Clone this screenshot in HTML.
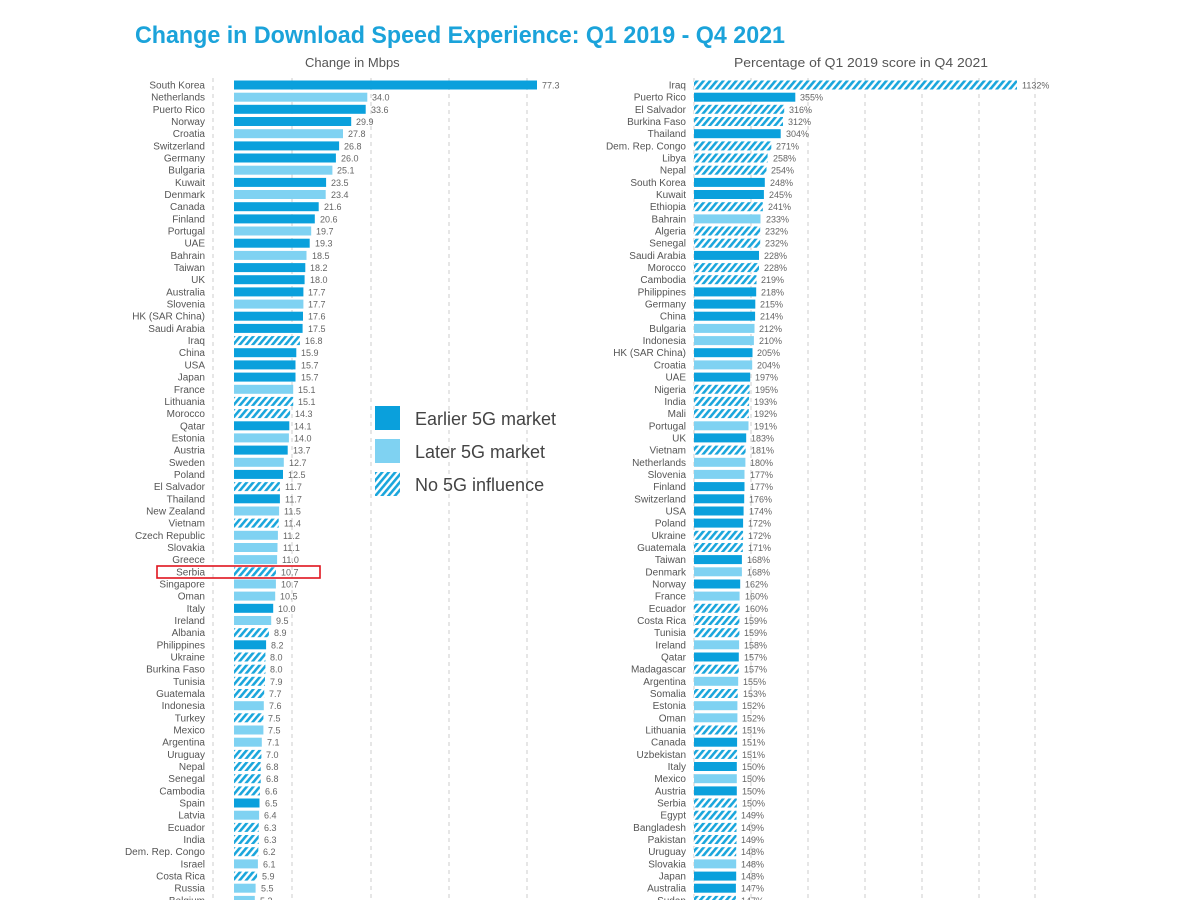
<!DOCTYPE html>
<html><head><meta charset="utf-8"><style>
body{margin:0;background:#fff;width:1200px;height:900px;overflow:hidden}
svg text{font-family:"Liberation Sans",sans-serif}
.l{font-size:10px;fill:#555;text-anchor:end}
.v{font-size:9px;fill:#666}
.D{fill:#0aa0dc}.L{fill:#7fd2f2}.H{fill:url(#h)}
</style></head><body>
<svg width="1200" height="900" xmlns="http://www.w3.org/2000/svg">
<defs><pattern id="h" patternUnits="userSpaceOnUse" width="5" height="5" patternTransform="rotate(40)"><rect width="5" height="5" fill="#fff"/><rect width="2.6" height="5" fill="#1aa6dc"/></pattern></defs>
<text x="135" y="43" font-size="24" font-weight="bold" fill="#1ba3da" textLength="650" lengthAdjust="spacingAndGlyphs">Change in Download Speed Experience: Q1 2019 - Q4 2021</text>
<text x="305" y="67" font-size="13" fill="#555">Change in Mbps</text>
<text x="734" y="67" font-size="13" fill="#555" textLength="254" lengthAdjust="spacingAndGlyphs">Percentage of Q1 2019 score in Q4 2021</text>
<g stroke="#ccc" stroke-dasharray="4,4">
<line x1="213" y1="78" x2="213" y2="900"/><line x1="292" y1="78" x2="292" y2="900"/><line x1="371" y1="78" x2="371" y2="900"/><line x1="449" y1="78" x2="449" y2="900"/><line x1="527" y1="78" x2="527" y2="900"/>
<line x1="694" y1="78" x2="694" y2="900"/><line x1="751" y1="78" x2="751" y2="900"/><line x1="808" y1="78" x2="808" y2="900"/><line x1="865" y1="78" x2="865" y2="900"/><line x1="922" y1="78" x2="922" y2="900"/><line x1="979" y1="78" x2="979" y2="900"/><line x1="1035" y1="78" x2="1035" y2="900"/>
</g>
<!-- LEFT -->
<g transform="translate(0,85)"><text class="l" x="205" y="3.5">South Korea</text><rect class="D" x="234" y="-4.5" width="303" height="9"/><text class="v" x="542" y="3.5">77.3</text></g>
<g transform="translate(0,97.2)"><text class="l" x="205" y="3.5">Netherlands</text><rect class="L" x="234" y="-4.5" width="133.3" height="9"/><text class="v" x="372" y="3.5">34.0</text></g>
<g transform="translate(0,109.3)"><text class="l" x="205" y="3.5">Puerto Rico</text><rect class="D" x="234" y="-4.5" width="131.7" height="9"/><text class="v" x="371" y="3.5">33.6</text></g>
<g transform="translate(0,121.5)"><text class="l" x="205" y="3.5">Norway</text><rect class="D" x="234" y="-4.5" width="117.2" height="9"/><text class="v" x="356" y="3.5">29.9</text></g>
<g transform="translate(0,133.7)"><text class="l" x="205" y="3.5">Croatia</text><rect class="L" x="234" y="-4.5" width="109" height="9"/><text class="v" x="348" y="3.5">27.8</text></g>
<g transform="translate(0,145.9)"><text class="l" x="205" y="3.5">Switzerland</text><rect class="D" x="234" y="-4.5" width="105.1" height="9"/><text class="v" x="344" y="3.5">26.8</text></g>
<g transform="translate(0,158)"><text class="l" x="205" y="3.5">Germany</text><rect class="D" x="234" y="-4.5" width="101.9" height="9"/><text class="v" x="341" y="3.5">26.0</text></g>
<g transform="translate(0,170.2)"><text class="l" x="205" y="3.5">Bulgaria</text><rect class="L" x="234" y="-4.5" width="98.4" height="9"/><text class="v" x="337" y="3.5">25.1</text></g>
<g transform="translate(0,182.4)"><text class="l" x="205" y="3.5">Kuwait</text><rect class="D" x="234" y="-4.5" width="92.1" height="9"/><text class="v" x="331" y="3.5">23.5</text></g>
<g transform="translate(0,194.5)"><text class="l" x="205" y="3.5">Denmark</text><rect class="L" x="234" y="-4.5" width="91.7" height="9"/><text class="v" x="331" y="3.5">23.4</text></g>
<g transform="translate(0,206.7)"><text class="l" x="205" y="3.5">Canada</text><rect class="D" x="234" y="-4.5" width="84.7" height="9"/><text class="v" x="324" y="3.5">21.6</text></g>
<g transform="translate(0,218.9)"><text class="l" x="205" y="3.5">Finland</text><rect class="D" x="234" y="-4.5" width="80.8" height="9"/><text class="v" x="320" y="3.5">20.6</text></g>
<g transform="translate(0,231)"><text class="l" x="205" y="3.5">Portugal</text><rect class="L" x="234" y="-4.5" width="77.2" height="9"/><text class="v" x="316" y="3.5">19.7</text></g>
<g transform="translate(0,243.2)"><text class="l" x="205" y="3.5">UAE</text><rect class="D" x="234" y="-4.5" width="75.7" height="9"/><text class="v" x="315" y="3.5">19.3</text></g>
<g transform="translate(0,255.4)"><text class="l" x="205" y="3.5">Bahrain</text><rect class="L" x="234" y="-4.5" width="72.5" height="9"/><text class="v" x="312" y="3.5">18.5</text></g>
<g transform="translate(0,267.6)"><text class="l" x="205" y="3.5">Taiwan</text><rect class="D" x="234" y="-4.5" width="71.3" height="9"/><text class="v" x="310" y="3.5">18.2</text></g>
<g transform="translate(0,279.7)"><text class="l" x="205" y="3.5">UK</text><rect class="D" x="234" y="-4.5" width="70.6" height="9"/><text class="v" x="310" y="3.5">18.0</text></g>
<g transform="translate(0,291.9)"><text class="l" x="205" y="3.5">Australia</text><rect class="D" x="234" y="-4.5" width="69.4" height="9"/><text class="v" x="308" y="3.5">17.7</text></g>
<g transform="translate(0,304.1)"><text class="l" x="205" y="3.5">Slovenia</text><rect class="L" x="234" y="-4.5" width="69.4" height="9"/><text class="v" x="308" y="3.5">17.7</text></g>
<g transform="translate(0,316.2)"><text class="l" x="205" y="3.5">HK (SAR China)</text><rect class="D" x="234" y="-4.5" width="69" height="9"/><text class="v" x="308" y="3.5">17.6</text></g>
<g transform="translate(0,328.4)"><text class="l" x="205" y="3.5">Saudi Arabia</text><rect class="D" x="234" y="-4.5" width="68.6" height="9"/><text class="v" x="308" y="3.5">17.5</text></g>
<g transform="translate(0,340.6)"><text class="l" x="205" y="3.5">Iraq</text><rect class="H" x="234" y="-4.5" width="65.9" height="9"/><text class="v" x="305" y="3.5">16.8</text></g>
<g transform="translate(0,352.7)"><text class="l" x="205" y="3.5">China</text><rect class="D" x="234" y="-4.5" width="62.3" height="9"/><text class="v" x="301" y="3.5">15.9</text></g>
<g transform="translate(0,364.9)"><text class="l" x="205" y="3.5">USA</text><rect class="D" x="234" y="-4.5" width="61.5" height="9"/><text class="v" x="301" y="3.5">15.7</text></g>
<g transform="translate(0,377.1)"><text class="l" x="205" y="3.5">Japan</text><rect class="D" x="234" y="-4.5" width="61.5" height="9"/><text class="v" x="301" y="3.5">15.7</text></g>
<g transform="translate(0,389.3)"><text class="l" x="205" y="3.5">France</text><rect class="L" x="234" y="-4.5" width="59.2" height="9"/><text class="v" x="298" y="3.5">15.1</text></g>
<g transform="translate(0,401.4)"><text class="l" x="205" y="3.5">Lithuania</text><rect class="H" x="234" y="-4.5" width="59.2" height="9"/><text class="v" x="298" y="3.5">15.1</text></g>
<g transform="translate(0,413.6)"><text class="l" x="205" y="3.5">Morocco</text><rect class="H" x="234" y="-4.5" width="56.1" height="9"/><text class="v" x="295" y="3.5">14.3</text></g>
<g transform="translate(0,425.8)"><text class="l" x="205" y="3.5">Qatar</text><rect class="D" x="234" y="-4.5" width="55.3" height="9"/><text class="v" x="294" y="3.5">14.1</text></g>
<g transform="translate(0,437.9)"><text class="l" x="205" y="3.5">Estonia</text><rect class="L" x="234" y="-4.5" width="54.9" height="9"/><text class="v" x="294" y="3.5">14.0</text></g>
<g transform="translate(0,450.1)"><text class="l" x="205" y="3.5">Austria</text><rect class="D" x="234" y="-4.5" width="53.7" height="9"/><text class="v" x="293" y="3.5">13.7</text></g>
<g transform="translate(0,462.3)"><text class="l" x="205" y="3.5">Sweden</text><rect class="L" x="234" y="-4.5" width="49.8" height="9"/><text class="v" x="289" y="3.5">12.7</text></g>
<g transform="translate(0,474.4)"><text class="l" x="205" y="3.5">Poland</text><rect class="D" x="234" y="-4.5" width="49" height="9"/><text class="v" x="288" y="3.5">12.5</text></g>
<g transform="translate(0,486.6)"><text class="l" x="205" y="3.5">El Salvador</text><rect class="H" x="234" y="-4.5" width="45.9" height="9"/><text class="v" x="285" y="3.5">11.7</text></g>
<g transform="translate(0,498.8)"><text class="l" x="205" y="3.5">Thailand</text><rect class="D" x="234" y="-4.5" width="45.9" height="9"/><text class="v" x="285" y="3.5">11.7</text></g>
<g transform="translate(0,511)"><text class="l" x="205" y="3.5">New Zealand</text><rect class="L" x="234" y="-4.5" width="45.1" height="9"/><text class="v" x="284" y="3.5">11.5</text></g>
<g transform="translate(0,523.1)"><text class="l" x="205" y="3.5">Vietnam</text><rect class="H" x="234" y="-4.5" width="44.7" height="9"/><text class="v" x="284" y="3.5">11.4</text></g>
<g transform="translate(0,535.3)"><text class="l" x="205" y="3.5">Czech Republic</text><rect class="L" x="234" y="-4.5" width="43.9" height="9"/><text class="v" x="283" y="3.5">11.2</text></g>
<g transform="translate(0,547.5)"><text class="l" x="205" y="3.5">Slovakia</text><rect class="L" x="234" y="-4.5" width="43.5" height="9"/><text class="v" x="283" y="3.5">11.1</text></g>
<g transform="translate(0,559.6)"><text class="l" x="205" y="3.5">Greece</text><rect class="L" x="234" y="-4.5" width="43.1" height="9"/><text class="v" x="282" y="3.5">11.0</text></g>
<g transform="translate(0,571.8)"><text class="l" x="205" y="3.5">Serbia</text><rect class="H" x="234" y="-4.5" width="41.9" height="9"/><text class="v" x="281" y="3.5">10.7</text></g>
<g transform="translate(0,584)"><text class="l" x="205" y="3.5">Singapore</text><rect class="L" x="234" y="-4.5" width="41.9" height="9"/><text class="v" x="281" y="3.5">10.7</text></g>
<g transform="translate(0,596.1)"><text class="l" x="205" y="3.5">Oman</text><rect class="L" x="234" y="-4.5" width="41.2" height="9"/><text class="v" x="280" y="3.5">10.5</text></g>
<g transform="translate(0,608.3)"><text class="l" x="205" y="3.5">Italy</text><rect class="D" x="234" y="-4.5" width="39.2" height="9"/><text class="v" x="278" y="3.5">10.0</text></g>
<g transform="translate(0,620.5)"><text class="l" x="205" y="3.5">Ireland</text><rect class="L" x="234" y="-4.5" width="37.2" height="9"/><text class="v" x="276" y="3.5">9.5</text></g>
<g transform="translate(0,632.7)"><text class="l" x="205" y="3.5">Albania</text><rect class="H" x="234" y="-4.5" width="34.9" height="9"/><text class="v" x="274" y="3.5">8.9</text></g>
<g transform="translate(0,644.8)"><text class="l" x="205" y="3.5">Philippines</text><rect class="D" x="234" y="-4.5" width="32.1" height="9"/><text class="v" x="271" y="3.5">8.2</text></g>
<g transform="translate(0,657)"><text class="l" x="205" y="3.5">Ukraine</text><rect class="H" x="234" y="-4.5" width="31.4" height="9"/><text class="v" x="270" y="3.5">8.0</text></g>
<g transform="translate(0,669.2)"><text class="l" x="205" y="3.5">Burkina Faso</text><rect class="H" x="234" y="-4.5" width="31.4" height="9"/><text class="v" x="270" y="3.5">8.0</text></g>
<g transform="translate(0,681.3)"><text class="l" x="205" y="3.5">Tunisia</text><rect class="H" x="234" y="-4.5" width="31" height="9"/><text class="v" x="270" y="3.5">7.9</text></g>
<g transform="translate(0,693.5)"><text class="l" x="205" y="3.5">Guatemala</text><rect class="H" x="234" y="-4.5" width="30.2" height="9"/><text class="v" x="269" y="3.5">7.7</text></g>
<g transform="translate(0,705.7)"><text class="l" x="205" y="3.5">Indonesia</text><rect class="L" x="234" y="-4.5" width="29.8" height="9"/><text class="v" x="269" y="3.5">7.6</text></g>
<g transform="translate(0,717.8)"><text class="l" x="205" y="3.5">Turkey</text><rect class="H" x="234" y="-4.5" width="29.4" height="9"/><text class="v" x="268" y="3.5">7.5</text></g>
<g transform="translate(0,730)"><text class="l" x="205" y="3.5">Mexico</text><rect class="L" x="234" y="-4.5" width="29.4" height="9"/><text class="v" x="268" y="3.5">7.5</text></g>
<g transform="translate(0,742.2)"><text class="l" x="205" y="3.5">Argentina</text><rect class="L" x="234" y="-4.5" width="27.8" height="9"/><text class="v" x="267" y="3.5">7.1</text></g>
<g transform="translate(0,754.4)"><text class="l" x="205" y="3.5">Uruguay</text><rect class="H" x="234" y="-4.5" width="27.4" height="9"/><text class="v" x="266" y="3.5">7.0</text></g>
<g transform="translate(0,766.5)"><text class="l" x="205" y="3.5">Nepal</text><rect class="H" x="234" y="-4.5" width="26.7" height="9"/><text class="v" x="266" y="3.5">6.8</text></g>
<g transform="translate(0,778.7)"><text class="l" x="205" y="3.5">Senegal</text><rect class="H" x="234" y="-4.5" width="26.7" height="9"/><text class="v" x="266" y="3.5">6.8</text></g>
<g transform="translate(0,790.9)"><text class="l" x="205" y="3.5">Cambodia</text><rect class="H" x="234" y="-4.5" width="25.9" height="9"/><text class="v" x="265" y="3.5">6.6</text></g>
<g transform="translate(0,803)"><text class="l" x="205" y="3.5">Spain</text><rect class="D" x="234" y="-4.5" width="25.5" height="9"/><text class="v" x="265" y="3.5">6.5</text></g>
<g transform="translate(0,815.2)"><text class="l" x="205" y="3.5">Latvia</text><rect class="L" x="234" y="-4.5" width="25.1" height="9"/><text class="v" x="264" y="3.5">6.4</text></g>
<g transform="translate(0,827.4)"><text class="l" x="205" y="3.5">Ecuador</text><rect class="H" x="234" y="-4.5" width="24.7" height="9"/><text class="v" x="264" y="3.5">6.3</text></g>
<g transform="translate(0,839.5)"><text class="l" x="205" y="3.5">India</text><rect class="H" x="234" y="-4.5" width="24.7" height="9"/><text class="v" x="264" y="3.5">6.3</text></g>
<g transform="translate(0,851.7)"><text class="l" x="205" y="3.5">Dem. Rep. Congo</text><rect class="H" x="234" y="-4.5" width="24.3" height="9"/><text class="v" x="263" y="3.5">6.2</text></g>
<g transform="translate(0,863.9)"><text class="l" x="205" y="3.5">Israel</text><rect class="L" x="234" y="-4.5" width="23.9" height="9"/><text class="v" x="263" y="3.5">6.1</text></g>
<g transform="translate(0,876.1)"><text class="l" x="205" y="3.5">Costa Rica</text><rect class="H" x="234" y="-4.5" width="23.1" height="9"/><text class="v" x="262" y="3.5">5.9</text></g>
<g transform="translate(0,888.2)"><text class="l" x="205" y="3.5">Russia</text><rect class="L" x="234" y="-4.5" width="21.6" height="9"/><text class="v" x="261" y="3.5">5.5</text></g>
<g transform="translate(0,900.4)"><text class="l" x="205" y="3.5">Belgium</text><rect class="L" x="234" y="-4.5" width="20.8" height="9"/><text class="v" x="260" y="3.5">5.3</text></g>
<rect x="157" y="566" width="163" height="12" fill="none" stroke="#e0141e" stroke-width="1.6"/>
<!-- RIGHT -->
<g transform="translate(0,85)"><text class="l" x="686" y="3.5">Iraq</text><rect class="H" x="694" y="-4.5" width="323" height="9"/><text class="v" x="1022" y="3.5">1132%</text></g>
<g transform="translate(0,97.2)"><text class="l" x="686" y="3.5">Puerto Rico</text><rect class="D" x="694" y="-4.5" width="101.3" height="9"/><text class="v" x="800" y="3.5">355%</text></g>
<g transform="translate(0,109.3)"><text class="l" x="686" y="3.5">El Salvador</text><rect class="H" x="694" y="-4.5" width="90.2" height="9"/><text class="v" x="789" y="3.5">316%</text></g>
<g transform="translate(0,121.5)"><text class="l" x="686" y="3.5">Burkina Faso</text><rect class="H" x="694" y="-4.5" width="89" height="9"/><text class="v" x="788" y="3.5">312%</text></g>
<g transform="translate(0,133.7)"><text class="l" x="686" y="3.5">Thailand</text><rect class="D" x="694" y="-4.5" width="86.7" height="9"/><text class="v" x="786" y="3.5">304%</text></g>
<g transform="translate(0,145.9)"><text class="l" x="686" y="3.5">Dem. Rep. Congo</text><rect class="H" x="694" y="-4.5" width="77.3" height="9"/><text class="v" x="776" y="3.5">271%</text></g>
<g transform="translate(0,158)"><text class="l" x="686" y="3.5">Libya</text><rect class="H" x="694" y="-4.5" width="73.6" height="9"/><text class="v" x="773" y="3.5">258%</text></g>
<g transform="translate(0,170.2)"><text class="l" x="686" y="3.5">Nepal</text><rect class="H" x="694" y="-4.5" width="72.5" height="9"/><text class="v" x="771" y="3.5">254%</text></g>
<g transform="translate(0,182.4)"><text class="l" x="686" y="3.5">South Korea</text><rect class="D" x="694" y="-4.5" width="70.8" height="9"/><text class="v" x="770" y="3.5">248%</text></g>
<g transform="translate(0,194.5)"><text class="l" x="686" y="3.5">Kuwait</text><rect class="D" x="694" y="-4.5" width="69.9" height="9"/><text class="v" x="769" y="3.5">245%</text></g>
<g transform="translate(0,206.7)"><text class="l" x="686" y="3.5">Ethiopia</text><rect class="H" x="694" y="-4.5" width="68.8" height="9"/><text class="v" x="768" y="3.5">241%</text></g>
<g transform="translate(0,218.9)"><text class="l" x="686" y="3.5">Bahrain</text><rect class="L" x="694" y="-4.5" width="66.5" height="9"/><text class="v" x="766" y="3.5">233%</text></g>
<g transform="translate(0,231)"><text class="l" x="686" y="3.5">Algeria</text><rect class="H" x="694" y="-4.5" width="66.2" height="9"/><text class="v" x="765" y="3.5">232%</text></g>
<g transform="translate(0,243.2)"><text class="l" x="686" y="3.5">Senegal</text><rect class="H" x="694" y="-4.5" width="66.2" height="9"/><text class="v" x="765" y="3.5">232%</text></g>
<g transform="translate(0,255.4)"><text class="l" x="686" y="3.5">Saudi Arabia</text><rect class="D" x="694" y="-4.5" width="65" height="9"/><text class="v" x="764" y="3.5">228%</text></g>
<g transform="translate(0,267.6)"><text class="l" x="686" y="3.5">Morocco</text><rect class="H" x="694" y="-4.5" width="65" height="9"/><text class="v" x="764" y="3.5">228%</text></g>
<g transform="translate(0,279.7)"><text class="l" x="686" y="3.5">Cambodia</text><rect class="H" x="694" y="-4.5" width="62.5" height="9"/><text class="v" x="761" y="3.5">219%</text></g>
<g transform="translate(0,291.9)"><text class="l" x="686" y="3.5">Philippines</text><rect class="D" x="694" y="-4.5" width="62.2" height="9"/><text class="v" x="761" y="3.5">218%</text></g>
<g transform="translate(0,304.1)"><text class="l" x="686" y="3.5">Germany</text><rect class="D" x="694" y="-4.5" width="61.3" height="9"/><text class="v" x="760" y="3.5">215%</text></g>
<g transform="translate(0,316.2)"><text class="l" x="686" y="3.5">China</text><rect class="D" x="694" y="-4.5" width="61.1" height="9"/><text class="v" x="760" y="3.5">214%</text></g>
<g transform="translate(0,328.4)"><text class="l" x="686" y="3.5">Bulgaria</text><rect class="L" x="694" y="-4.5" width="60.5" height="9"/><text class="v" x="759" y="3.5">212%</text></g>
<g transform="translate(0,340.6)"><text class="l" x="686" y="3.5">Indonesia</text><rect class="L" x="694" y="-4.5" width="59.9" height="9"/><text class="v" x="759" y="3.5">210%</text></g>
<g transform="translate(0,352.7)"><text class="l" x="686" y="3.5">HK (SAR China)</text><rect class="D" x="694" y="-4.5" width="58.5" height="9"/><text class="v" x="757" y="3.5">205%</text></g>
<g transform="translate(0,364.9)"><text class="l" x="686" y="3.5">Croatia</text><rect class="L" x="694" y="-4.5" width="58.2" height="9"/><text class="v" x="757" y="3.5">204%</text></g>
<g transform="translate(0,377.1)"><text class="l" x="686" y="3.5">UAE</text><rect class="D" x="694" y="-4.5" width="56.2" height="9"/><text class="v" x="755" y="3.5">197%</text></g>
<g transform="translate(0,389.3)"><text class="l" x="686" y="3.5">Nigeria</text><rect class="H" x="694" y="-4.5" width="55.6" height="9"/><text class="v" x="755" y="3.5">195%</text></g>
<g transform="translate(0,401.4)"><text class="l" x="686" y="3.5">India</text><rect class="H" x="694" y="-4.5" width="55.1" height="9"/><text class="v" x="754" y="3.5">193%</text></g>
<g transform="translate(0,413.6)"><text class="l" x="686" y="3.5">Mali</text><rect class="H" x="694" y="-4.5" width="54.8" height="9"/><text class="v" x="754" y="3.5">192%</text></g>
<g transform="translate(0,425.8)"><text class="l" x="686" y="3.5">Portugal</text><rect class="L" x="694" y="-4.5" width="54.5" height="9"/><text class="v" x="754" y="3.5">191%</text></g>
<g transform="translate(0,437.9)"><text class="l" x="686" y="3.5">UK</text><rect class="D" x="694" y="-4.5" width="52.2" height="9"/><text class="v" x="751" y="3.5">183%</text></g>
<g transform="translate(0,450.1)"><text class="l" x="686" y="3.5">Vietnam</text><rect class="H" x="694" y="-4.5" width="51.6" height="9"/><text class="v" x="751" y="3.5">181%</text></g>
<g transform="translate(0,462.3)"><text class="l" x="686" y="3.5">Netherlands</text><rect class="L" x="694" y="-4.5" width="51.4" height="9"/><text class="v" x="750" y="3.5">180%</text></g>
<g transform="translate(0,474.4)"><text class="l" x="686" y="3.5">Slovenia</text><rect class="L" x="694" y="-4.5" width="50.5" height="9"/><text class="v" x="750" y="3.5">177%</text></g>
<g transform="translate(0,486.6)"><text class="l" x="686" y="3.5">Finland</text><rect class="D" x="694" y="-4.5" width="50.5" height="9"/><text class="v" x="750" y="3.5">177%</text></g>
<g transform="translate(0,498.8)"><text class="l" x="686" y="3.5">Switzerland</text><rect class="D" x="694" y="-4.5" width="50.2" height="9"/><text class="v" x="749" y="3.5">176%</text></g>
<g transform="translate(0,511)"><text class="l" x="686" y="3.5">USA</text><rect class="D" x="694" y="-4.5" width="49.6" height="9"/><text class="v" x="749" y="3.5">174%</text></g>
<g transform="translate(0,523.1)"><text class="l" x="686" y="3.5">Poland</text><rect class="D" x="694" y="-4.5" width="49.1" height="9"/><text class="v" x="748" y="3.5">172%</text></g>
<g transform="translate(0,535.3)"><text class="l" x="686" y="3.5">Ukraine</text><rect class="H" x="694" y="-4.5" width="49.1" height="9"/><text class="v" x="748" y="3.5">172%</text></g>
<g transform="translate(0,547.5)"><text class="l" x="686" y="3.5">Guatemala</text><rect class="H" x="694" y="-4.5" width="48.8" height="9"/><text class="v" x="748" y="3.5">171%</text></g>
<g transform="translate(0,559.6)"><text class="l" x="686" y="3.5">Taiwan</text><rect class="D" x="694" y="-4.5" width="47.9" height="9"/><text class="v" x="747" y="3.5">168%</text></g>
<g transform="translate(0,571.8)"><text class="l" x="686" y="3.5">Denmark</text><rect class="L" x="694" y="-4.5" width="47.9" height="9"/><text class="v" x="747" y="3.5">168%</text></g>
<g transform="translate(0,584)"><text class="l" x="686" y="3.5">Norway</text><rect class="D" x="694" y="-4.5" width="46.2" height="9"/><text class="v" x="745" y="3.5">162%</text></g>
<g transform="translate(0,596.1)"><text class="l" x="686" y="3.5">France</text><rect class="L" x="694" y="-4.5" width="45.6" height="9"/><text class="v" x="745" y="3.5">160%</text></g>
<g transform="translate(0,608.3)"><text class="l" x="686" y="3.5">Ecuador</text><rect class="H" x="694" y="-4.5" width="45.6" height="9"/><text class="v" x="745" y="3.5">160%</text></g>
<g transform="translate(0,620.5)"><text class="l" x="686" y="3.5">Costa Rica</text><rect class="H" x="694" y="-4.5" width="45.4" height="9"/><text class="v" x="744" y="3.5">159%</text></g>
<g transform="translate(0,632.7)"><text class="l" x="686" y="3.5">Tunisia</text><rect class="H" x="694" y="-4.5" width="45.4" height="9"/><text class="v" x="744" y="3.5">159%</text></g>
<g transform="translate(0,644.8)"><text class="l" x="686" y="3.5">Ireland</text><rect class="L" x="694" y="-4.5" width="45.1" height="9"/><text class="v" x="744" y="3.5">158%</text></g>
<g transform="translate(0,657)"><text class="l" x="686" y="3.5">Qatar</text><rect class="D" x="694" y="-4.5" width="44.8" height="9"/><text class="v" x="744" y="3.5">157%</text></g>
<g transform="translate(0,669.2)"><text class="l" x="686" y="3.5">Madagascar</text><rect class="H" x="694" y="-4.5" width="44.8" height="9"/><text class="v" x="744" y="3.5">157%</text></g>
<g transform="translate(0,681.3)"><text class="l" x="686" y="3.5">Argentina</text><rect class="L" x="694" y="-4.5" width="44.2" height="9"/><text class="v" x="743" y="3.5">155%</text></g>
<g transform="translate(0,693.5)"><text class="l" x="686" y="3.5">Somalia</text><rect class="H" x="694" y="-4.5" width="43.7" height="9"/><text class="v" x="743" y="3.5">153%</text></g>
<g transform="translate(0,705.7)"><text class="l" x="686" y="3.5">Estonia</text><rect class="L" x="694" y="-4.5" width="43.4" height="9"/><text class="v" x="742" y="3.5">152%</text></g>
<g transform="translate(0,717.8)"><text class="l" x="686" y="3.5">Oman</text><rect class="L" x="694" y="-4.5" width="43.4" height="9"/><text class="v" x="742" y="3.5">152%</text></g>
<g transform="translate(0,730)"><text class="l" x="686" y="3.5">Lithuania</text><rect class="H" x="694" y="-4.5" width="43.1" height="9"/><text class="v" x="742" y="3.5">151%</text></g>
<g transform="translate(0,742.2)"><text class="l" x="686" y="3.5">Canada</text><rect class="D" x="694" y="-4.5" width="43.1" height="9"/><text class="v" x="742" y="3.5">151%</text></g>
<g transform="translate(0,754.4)"><text class="l" x="686" y="3.5">Uzbekistan</text><rect class="H" x="694" y="-4.5" width="43.1" height="9"/><text class="v" x="742" y="3.5">151%</text></g>
<g transform="translate(0,766.5)"><text class="l" x="686" y="3.5">Italy</text><rect class="D" x="694" y="-4.5" width="42.8" height="9"/><text class="v" x="742" y="3.5">150%</text></g>
<g transform="translate(0,778.7)"><text class="l" x="686" y="3.5">Mexico</text><rect class="L" x="694" y="-4.5" width="42.8" height="9"/><text class="v" x="742" y="3.5">150%</text></g>
<g transform="translate(0,790.9)"><text class="l" x="686" y="3.5">Austria</text><rect class="D" x="694" y="-4.5" width="42.8" height="9"/><text class="v" x="742" y="3.5">150%</text></g>
<g transform="translate(0,803)"><text class="l" x="686" y="3.5">Serbia</text><rect class="H" x="694" y="-4.5" width="42.8" height="9"/><text class="v" x="742" y="3.5">150%</text></g>
<g transform="translate(0,815.2)"><text class="l" x="686" y="3.5">Egypt</text><rect class="H" x="694" y="-4.5" width="42.5" height="9"/><text class="v" x="741" y="3.5">149%</text></g>
<g transform="translate(0,827.4)"><text class="l" x="686" y="3.5">Bangladesh</text><rect class="H" x="694" y="-4.5" width="42.5" height="9"/><text class="v" x="741" y="3.5">149%</text></g>
<g transform="translate(0,839.5)"><text class="l" x="686" y="3.5">Pakistan</text><rect class="H" x="694" y="-4.5" width="42.5" height="9"/><text class="v" x="741" y="3.5">149%</text></g>
<g transform="translate(0,851.7)"><text class="l" x="686" y="3.5">Uruguay</text><rect class="H" x="694" y="-4.5" width="42.2" height="9"/><text class="v" x="741" y="3.5">148%</text></g>
<g transform="translate(0,863.9)"><text class="l" x="686" y="3.5">Slovakia</text><rect class="L" x="694" y="-4.5" width="42.2" height="9"/><text class="v" x="741" y="3.5">148%</text></g>
<g transform="translate(0,876.1)"><text class="l" x="686" y="3.5">Japan</text><rect class="D" x="694" y="-4.5" width="42.2" height="9"/><text class="v" x="741" y="3.5">148%</text></g>
<g transform="translate(0,888.2)"><text class="l" x="686" y="3.5">Australia</text><rect class="D" x="694" y="-4.5" width="41.9" height="9"/><text class="v" x="741" y="3.5">147%</text></g>
<g transform="translate(0,900.4)"><text class="l" x="686" y="3.5">Sudan</text><rect class="H" x="694" y="-4.5" width="41.9" height="9"/><text class="v" x="741" y="3.5">147%</text></g>
<!-- legend -->
<rect x="375" y="406" width="25" height="24" class="D"/>
<rect x="375" y="439" width="25" height="24" class="L"/>
<rect x="375" y="472" width="25" height="24" fill="url(#h)"/>
<text x="415" y="425" font-size="18" fill="#444">Earlier 5G market</text>
<text x="415" y="458" font-size="18" fill="#444">Later 5G market</text>
<text x="415" y="491" font-size="18" fill="#444">No 5G influence</text>
</svg>
</body></html>
